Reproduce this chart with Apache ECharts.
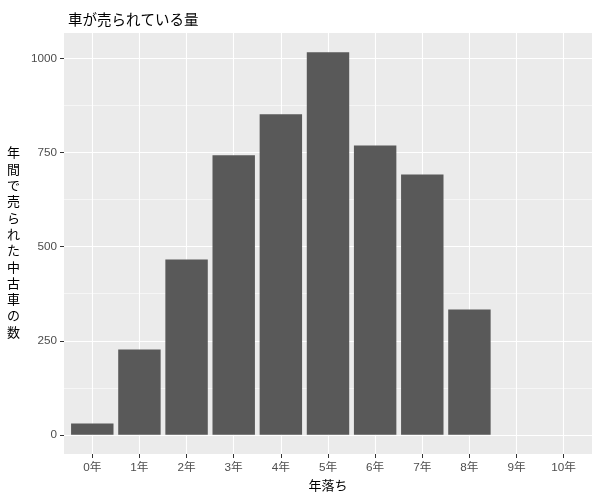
<!DOCTYPE html>
<html><head><meta charset="utf-8">
<script src="https://cdn.jsdelivr.net/npm/echarts@6/dist/echarts.min.js"></script>
<style>html,body{margin:0;padding:0;background:#fff}#c{width:600px;height:500px}</style>
</head><body><div id="c"></div>
<script>
const chartTitle = '車が売られている量';
const xTitle = '年落ち';
const yTitle = '年間で売られた中古車の数';
const categories = ['0年','1年','2年','3年','4年','5年','6年','7年','8年','9年','10年'];
const counts = [30, 227, 466, 743, 852, 1017, 769, 692, 333, 0, 0];
const yTicks = [0, 250, 500, 750, 1000];
const yMinorTicks = [125, 375, 625, 875];
const xTicks = categories.map((c, i) => i);

const FONT = "'Liberation Sans', 'Noto Sans CJK JP', sans-serif";
const maxV = Math.max(...counts);
const yMin = -0.05 * maxV, yMax = 1.05 * maxV;

const chart = echarts.init(document.getElementById('c'), null, {renderer: 'canvas'});
chart.setOption({
  animation: false,
  backgroundColor: '#ffffff',
  title: {
    text: chartTitle, left: 63, top: 7,
    textStyle: {fontFamily: FONT, fontSize: 14.5, fontWeight: 'normal', color: '#000000', lineHeight: 18}
  },
  grid: {
    left: 64, right: 8, top: 33, bottom: 46, containLabel: false,
    show: true, backgroundColor: '#EBEBEB', borderWidth: 0
  },
  xAxis: {
    type: 'value', min: -0.6, max: categories.length - 0.4,
    name: xTitle, nameLocation: 'middle', nameGap: 26,
    nameTextStyle: {fontFamily: FONT, fontSize: 13, color: '#000000'},
    axisLine: {show: false, onZero: false},
    axisTick: {show: true, inside: false, length: 4, lineStyle: {color: '#333333', width: 1}, customValues: xTicks},
    axisLabel: {
      customValues: xTicks, margin: 8, color: '#4D4D4D', fontFamily: FONT, fontSize: 11.7,
      formatter: v => categories[Math.round(v)]
    },
    splitLine: {show: true, lineStyle: {color: '#ffffff', width: 1.1}}
  },
  yAxis: [{
    type: 'value', min: yMin, max: yMax,
    name: yTitle.split('').join('\n'), nameLocation: 'middle', nameRotate: 0, nameGap: 44,
    nameTextStyle: {fontFamily: FONT, fontSize: 13, color: '#000000', lineHeight: 16.3, padding: [7, 0, 0, 0]},
    axisLine: {show: false, onZero: false},
    axisTick: {show: true, inside: false, length: 4, lineStyle: {color: '#333333', width: 1}, customValues: yTicks},
    axisLabel: {customValues: yTicks, margin: 7, color: '#4D4D4D', fontFamily: FONT, fontSize: 11.7,
      formatter: v => String(v)},
    splitLine: {show: true, lineStyle: {color: '#ffffff', width: 1.1}}
  }, {
    type: 'value', min: yMin, max: yMax, position: 'left',
    axisLine: {show: false, onZero: false},
    axisTick: {show: false, customValues: yMinorTicks},
    axisLabel: {show: false, customValues: yMinorTicks},
    splitLine: {show: true, lineStyle: {color: '#ffffff', width: 0.55}}
  }],
  series: [{
    type: 'bar', xAxisIndex: 0, yAxisIndex: 0,
    data: counts.map((v, i) => [i, v]),
    barWidth: '90%',
    itemStyle: {color: '#595959'},
    z: 5
  }]
});
</script></body></html>
